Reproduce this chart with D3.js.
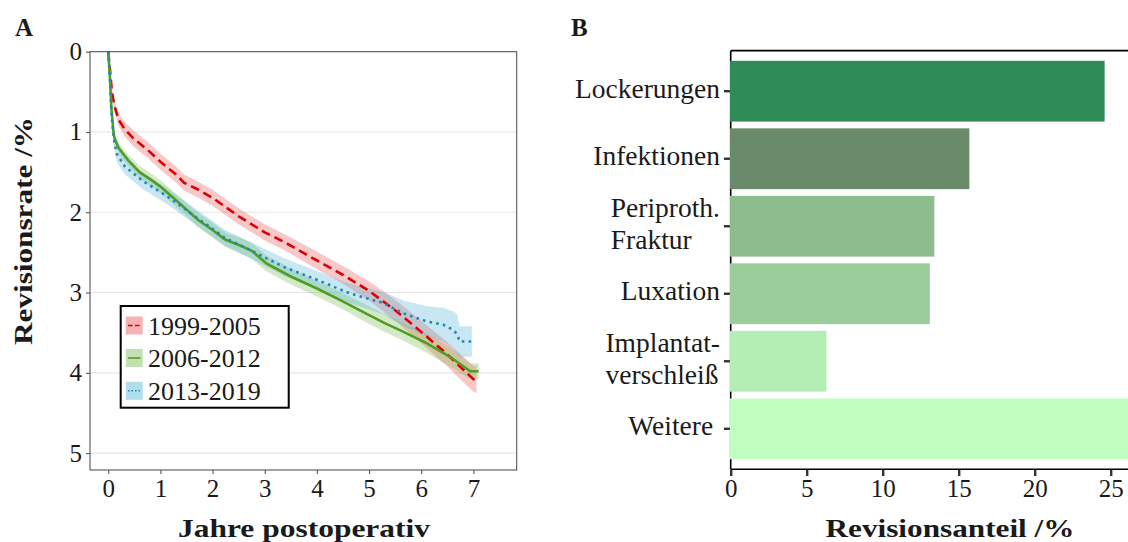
<!DOCTYPE html>
<html>
<head>
<meta charset="utf-8">
<script src="https://cdn.jsdelivr.net/npm/d3@7"></script>
<style>
  body { margin: 0; background: #fff; }
  svg text { font-family: "Liberation Serif", "DejaVu Serif", serif; fill: #1a1a1a; }
</style>
</head>
<body>
<svg width="1128" height="542"></svg>
<script>
// --- Panel A: Revisionsrate ueber Jahre postoperativ ---
var zeitraeume = ["1999-2005", "2006-2012", "2013-2019"];

var t_9905    = [0, 0.03, 0.07, 0.12, 0.2, 0.32, 0.5, 0.75, 1.0, 1.3, 1.45, 1.7, 2.0, 2.5, 3.0, 3.4, 4.0, 4.5, 5.0, 5.5, 6.0, 6.5, 7.0, 7.06];
var rate_9905 = [0, 0.2, 0.5, 0.68, 0.85, 0.97, 1.09, 1.22, 1.37, 1.53, 1.63, 1.71, 1.82, 2.05, 2.25, 2.38, 2.6, 2.78, 2.98, 3.22, 3.49, 3.77, 4.08, 4.10];
var lo_9905   = [0, 0.17, 0.45, 0.62, 0.77, 0.88, 0.99, 1.12, 1.27, 1.43, 1.53, 1.61, 1.72, 1.95, 2.15, 2.28, 2.49, 2.67, 2.86, 3.09, 3.35, 3.62, 3.91, 3.92];
var hi_9905   = [0, 0.23, 0.55, 0.74, 0.93, 1.06, 1.19, 1.32, 1.47, 1.63, 1.73, 1.81, 1.92, 2.15, 2.35, 2.48, 2.71, 2.89, 3.10, 3.35, 3.63, 3.92, 4.24, 4.25];

var t_0612    = [0, 0.03, 0.06, 0.1, 0.12, 0.2, 0.38, 0.6, 0.83, 1.0, 1.3, 1.73, 2.0, 2.24, 2.55, 2.75, 3.04, 3.5, 4.0, 4.44, 5.0, 5.3, 5.6, 6.1, 6.55, 6.94, 7.1];
var rate_0612 = [0, 0.3, 0.7, 1.0, 1.08, 1.2, 1.35, 1.5, 1.6, 1.68, 1.85, 2.10, 2.22, 2.34, 2.42, 2.48, 2.64, 2.80, 2.95, 3.09, 3.28, 3.38, 3.47, 3.63, 3.80, 3.98, 3.98];
var lo_0612   = [0, 0.27, 0.65, 0.94, 1.02, 1.13, 1.28, 1.42, 1.52, 1.60, 1.77, 2.01, 2.13, 2.25, 2.32, 2.38, 2.54, 2.70, 2.85, 2.99, 3.17, 3.27, 3.36, 3.51, 3.68, 3.88, 3.88];
var hi_0612   = [0, 0.33, 0.75, 1.06, 1.14, 1.27, 1.42, 1.58, 1.68, 1.76, 1.93, 2.19, 2.31, 2.43, 2.52, 2.58, 2.74, 2.90, 3.05, 3.19, 3.39, 3.49, 3.58, 3.75, 3.92, 4.08, 4.08];

var t_1319    = [0, 0.03, 0.06, 0.1, 0.16, 0.32, 0.64, 1.15, 1.66, 2.24, 2.72, 3.36, 4.0, 4.63, 5.27, 5.66, 6.11, 6.42, 6.6, 6.68, 6.74, 6.97];
var rate_1319 = [0, 0.3, 0.75, 1.06, 1.27, 1.43, 1.60, 1.81, 2.05, 2.32, 2.47, 2.68, 2.84, 3.01, 3.13, 3.26, 3.36, 3.40, 3.46, 3.51, 3.61, 3.61];
var lo_1319   = [0, 0.26, 0.68, 0.98, 1.17, 1.33, 1.50, 1.71, 1.95, 2.22, 2.37, 2.57, 2.73, 2.89, 2.99, 3.10, 3.17, 3.19, 3.23, 3.26, 3.42, 3.42];
var hi_1319   = [0, 0.34, 0.82, 1.14, 1.37, 1.53, 1.70, 1.91, 2.15, 2.42, 2.57, 2.79, 2.95, 3.13, 3.27, 3.42, 3.55, 3.61, 3.69, 3.76, 3.80, 3.80];

var xTicksA = [0, 1, 2, 3, 4, 5, 6, 7];
var yTicksA = [0, 1, 2, 3, 4, 5];

// --- Panel B: Revisionsgruende ---
var gruende = ["Lockerungen", "Infektionen", "Periproth.\nFraktur", "Luxation", "Implantat-\nverschleiß", "Weitere "];
var anteil  = [24.6, 15.7, 13.4, 13.1, 6.3, 26.9];
var xTicksB = [0, 5, 10, 15, 20, 25];

var lineCol = ["#dd0000", "#4f9e23", "#1b8bb8"];
var bandCol = ["#e85555", "#7dbb55", "#55b4d6"];
var barCol  = ["#2E8B57", "#698B69", "#8FBC8F", "#9BCD9B", "#B4EEB4", "#C1FFC1"];
var dashes  = ["9,5", null, "2.6,4.2"];

var svg = d3.select("svg");

// ================= A =================
var xA = d3.scaleLinear().domain([-0.35, 7.83]).range([90, 516.7]);
var yA = d3.scaleLinear().domain([0, 5.21]).range([51.7, 470]);

svg.append("g").selectAll("line")
   .data(yTicksA.slice(1))
   .enter().append("line")
   .attr("x1", 90).attr("x2", 516.7)
   .attr("y1", function(d){ return yA(d); })
   .attr("y2", function(d){ return yA(d); })
   .style("stroke", "#e6e6e6").style("stroke-width", 1.1);

var reihen = [
  {t: t_9905, v: rate_9905, lo: lo_9905, hi: hi_9905},
  {t: t_0612, v: rate_0612, lo: lo_0612, hi: hi_0612},
  {t: t_1319, v: rate_1319, lo: lo_1319, hi: hi_1319}
];

var band = d3.area()
  .x(function(d){ return xA(d[0]); })
  .y0(function(d){ return yA(d[1]); })
  .y1(function(d){ return yA(d[2]); });

var linie = d3.line()
  .x(function(d){ return xA(d[0]); })
  .y(function(d){ return yA(d[1]); });

reihen.forEach(function(r, i){
  var pts = r.t.map(function(t, j){ return [t, r.lo[j], r.hi[j]]; });
  svg.append("path").attr("d", band(pts))
     .style("fill", bandCol[i]).style("fill-opacity", 0.32).style("stroke", "none");
});

reihen.forEach(function(r, i){
  var pts = r.t.map(function(t, j){ return [t, r.v[j]]; });
  svg.append("path").attr("d", linie(pts))
     .style("fill", "none").style("stroke", lineCol[i])
     .style("stroke-width", 2.6)
     .style("stroke-dasharray", dashes[i]);
});

svg.append("rect")
   .attr("x", 90).attr("y", 51.7).attr("width", 426.7).attr("height", 418.3)
   .style("fill", "none").style("stroke", "#555").style("stroke-width", 1.1);

var axL = svg.append("g").attr("transform", "translate(90,0)")
   .call(d3.axisLeft(yA).tickValues(yTicksA).tickFormat(d3.format("d")).tickSize(4).tickPadding(4));
var axB = svg.append("g").attr("transform", "translate(0,470)")
   .call(d3.axisBottom(xA).tickValues(xTicksA).tickFormat(d3.format("d")).tickSize(4).tickPadding(5));
[axL, axB].forEach(function(a){
  a.select(".domain").remove();
  a.selectAll(".tick line").style("stroke", "#555").style("stroke-width", 1.1);
  a.selectAll("text").style("font-size", "25px").style("fill", "#1a1a1a");
});

// legend
var leg = svg.append("g");
leg.append("rect").attr("x", 120.7).attr("y", 306).attr("width", 168).attr("height", 101.7)
   .style("fill", "#fff").style("stroke", "#000").style("stroke-width", 2);
var legY = [325.5, 358, 390.8];
zeitraeume.forEach(function(z, i){
  leg.append("rect").attr("x", 125.7).attr("y", legY[i] - 9).attr("width", 17).attr("height", 18)
     .style("fill", bandCol[i]).style("fill-opacity", 0.45);
  leg.append("line").attr("x1", 128).attr("x2", 140.5).attr("y1", legY[i]).attr("y2", legY[i])
     .style("stroke", lineCol[i]).style("stroke-width", 1.6)
     .style("stroke-dasharray", i == 0 ? "4.5,2.5" : (i == 2 ? "1.5,2" : null));
  leg.append("text").attr("x", 148).attr("y", legY[i] + 9).text(z).style("font-size", "26px");
});

svg.append("text").text("A").attr("x", 15).attr("y", 36)
   .style("font-size", "25px").style("font-weight", "bold");
svg.append("text").text("Revisionsrate /%")
   .attr("transform", "translate(32,231) rotate(-90)")
   .attr("text-anchor", "middle").attr("textLength", 228).attr("lengthAdjust", "spacingAndGlyphs")
   .style("font-size", "26px").style("font-weight", "bold");
svg.append("text").text("Jahre postoperativ")
   .attr("x", 304).attr("y", 537)
   .attr("text-anchor", "middle").attr("textLength", 252).attr("lengthAdjust", "spacingAndGlyphs")
   .style("font-size", "26px").style("font-weight", "bold");

// ================= B =================
var x0 = 730.7;
var xB = d3.scaleLinear().domain([0, 29]).range([x0, x0 + 29 * 15.2]);
var yB = d3.scaleBand().domain(gruende).range([50.7, 469.3]).paddingInner(0.1).paddingOuter(0.15);

svg.append("line").attr("x1", x0).attr("x2", 1128).attr("y1", 50.7).attr("y2", 50.7)
   .style("stroke", "#000").style("stroke-width", 1.8);
svg.append("line").attr("x1", x0).attr("x2", x0).attr("y1", 50.7).attr("y2", 469.3)
   .style("stroke", "#000").style("stroke-width", 1.6);

svg.append("g").selectAll("rect")
   .data(gruende)
   .enter().append("rect")
   .attr("x", x0 - 0.7)
   .attr("y", function(d){ return yB(d); })
   .attr("height", yB.bandwidth())
   .attr("width", function(d, i){ return xB(anteil[i]) - x0 + 0.7; })
   .style("fill", function(d, i){ return barCol[i]; });

svg.append("line").attr("x1", x0).attr("x2", 1128).attr("y1", 469.3).attr("y2", 469.3)
   .style("stroke", "#000").style("stroke-width", 1.6);

var axBL = svg.append("g").attr("transform", "translate(" + (x0 - 0.8) + ",0)")
   .call(d3.axisLeft(yB).tickSize(6).tickFormat(""));
var axBB = svg.append("g").attr("transform", "translate(0,470)")
   .call(d3.axisBottom(xB).tickValues(xTicksB).tickSize(6).tickPadding(3));
[axBL, axBB].forEach(function(a){
  a.select(".domain").remove();
  a.selectAll(".tick line").style("stroke", "#333").style("stroke-width", 2.4);
  a.selectAll("text").style("font-size", "25px").style("fill", "#1a1a1a");
});

// category labels, multi-line blocks left aligned, block right aligned at the tick
gruende.forEach(function(g){
  var zeilen = g.split("\n");
  var cy = yB(g) + yB.bandwidth() / 2;
  var txt = svg.append("text").style("font-size", "27.5px").style("white-space", "pre");
  var w = 0;
  zeilen.forEach(function(z, k){
    var ts = txt.append("tspan").text(z)
       .attr("y", cy + 6.5 + (k - (zeilen.length - 1) / 2) * 32);
    w = Math.max(w, ts.node().getComputedTextLength());
  });
  txt.selectAll("tspan").attr("x", 720 - w);
});

svg.append("text").text("B").attr("x", 571).attr("y", 36)
   .style("font-size", "25px").style("font-weight", "bold");
svg.append("text").text("Revisionsanteil /%")
   .attr("x", 950).attr("y", 537)
   .attr("text-anchor", "middle").attr("textLength", 249).attr("lengthAdjust", "spacingAndGlyphs")
   .style("font-size", "26px").style("font-weight", "bold");
</script>
</body>
</html>
